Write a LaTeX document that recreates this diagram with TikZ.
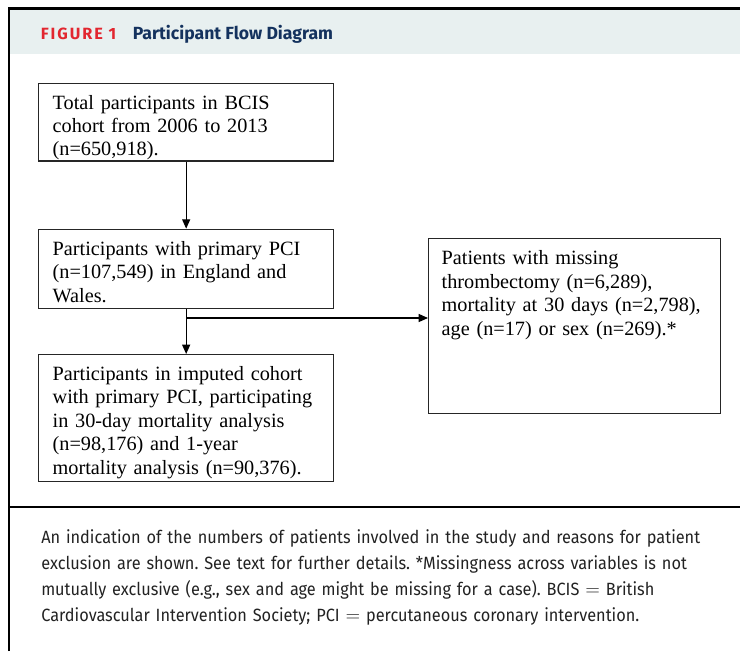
\documentclass[tikz,border=0pt]{standalone}
\usepackage{fontspec}
\setmainfont{Liberation Serif}
\newfontfamily\headfont{Fira Sans}
\newfontfamily\tagfont[LetterSpace=12]{Fira Sans}
\newfontfamily\capfont[FakeStretch=0.92]{Fira Sans}
\usepackage{tikz}
\usetikzlibrary{positioning,arrows.meta}
\frenchspacing

\definecolor{headbg}{HTML}{E8F0F0}
\definecolor{figred}{HTML}{E2262F}
\definecolor{navy}{HTML}{14325E}
\definecolor{captext}{HTML}{222222}

\begin{document}
\begin{tikzpicture}[x=0.75pt,y=-0.75pt,
    box/.style={draw=black!85,line width=1pt,inner xsep=10.5pt,inner ysep=0pt,
      text width=200.25pt,align=left,font=\fontsize{15.2}{17.6}\selectfont},
    arr/.style={-{Triangle[width=6pt,length=7pt]},line width=0.9pt}]
  \useasboundingbox (0,0) rectangle (740,651);

  %header and frame
  \fill[headbg] (10,9.5) rectangle (740,54);
  \draw[line width=1.6pt] (9,651) -- (9,8.5) -- (740,8.5);
  \draw[line width=1.5pt] (9,506.5) -- (740,506.5);
  \node[anchor=base west,inner sep=0,text=figred,font=\tagfont\bfseries\fontsize{12.2}{13}\selectfont] (tag) at (40.5,39) {FIGURE 1};
  \node[anchor=base west,inner sep=0,text=navy,font=\headfont\bfseries\fontsize{13.2}{14}\selectfont] (title) at (132.5,39) {Participant Flow Diagram};

  \node[box,anchor=north west,text height=19pt,text depth=39pt] (b1) at (38,83)
    {Total participants in BCIS\\cohort from 2006 to 2013\\(n=650,918).};
  \node[box,below=50.25pt of b1,text height=19.5pt,text depth=39.75pt] (b2)
    {Participants with primary PCI\\(n=107,549) in England and\\Wales.};
  \node[box,below=33.75pt of b2,text height=19.1pt,text depth=76.1pt] (b3)
    {Participants in imputed cohort\\with primary PCI, participating\\in 30-day mortality analysis\\(n=98,176) and 1-year\\mortality analysis (n=90,376).};
  \node[box,anchor=north west,inner xsep=9.75pt,text width=199.5pt,text height=19.5pt,text depth=111.75pt] (b4) at (428,238)
    {Patients with missing\\thrombectomy (n=6,289),\\mortality at 30 days (n=2,798),\\age (n=17) or sex (n=269).*};

  %b1>b2>b3
  \draw[arr] (b1) -- (b2);
  \draw[arr] (b2) -- (b3);
  %exclusions
  \coordinate (tee) at (b2.south |- 0,318);
  \draw[arr] (tee) -- (tee -| b4.west);

  \node[anchor=base west,inner sep=0,text width=530pt,align=left,text=captext,font=\capfont\fontsize{13.3}{19.7}\selectfont] (cap) at (41,543)
    {An indication of the numbers of patients involved in the study and reasons for patient\\
     exclusion are shown. See text for further details. *Missingness across variables is not\\
     mutually exclusive (e.g., sex and age might be missing for a case). BCIS $=$ British\\
     Cardiovascular Intervention Society; PCI $=$ percutaneous coronary intervention.};
\end{tikzpicture}
\end{document}
